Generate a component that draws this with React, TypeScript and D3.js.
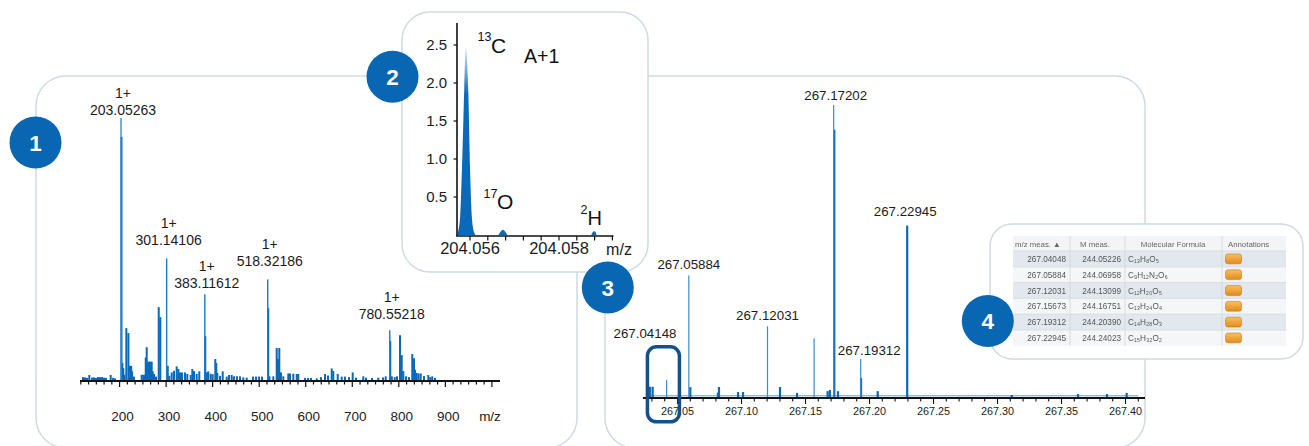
import * as d3 from "d3";

const FONT = "'Liberation Sans', Arial, Helvetica, sans-serif";
const BLUE = "#0a69b8";
const LIGHT_BLUE = "#3a8ad2";
const BORDER = "#cfdae3";
const BADGE = "#0866b2";
const INK = "#1b1b1b";

// ---------- panel 1: full scan (m/z, relative intensity %) ----------
const scanPeakMz = [203.05263, 301.14106, 383.11612, 518.32186, 780.55218];
const scanPeakIntensity = [100, 46.4, 32.7, 38.4, 19.0];

const scanProfile: [number, number][] = [
    [121.4, 1.1], [125.7, 1.0], [130.0, 0.8], [134.9, 1.9], [140.7, 0.9], [145.0, 1.0],
    [149.3, 0.8], [153.6, 1.1], [157.9, 1.1], [162.2, 1.1], [166.5, 0.9], [170.8, 0.8],
    [180.9, 1.9], [185.9, 0.8], [190.2, 0.6],
    [204.1, 92.8], [206.0, 6.5], [208.0, 4.5], [210.2, 2.0], [214.5, 19.8], [219.0, 17.9],
    [222.5, 5.4], [225.0, 5.4], [227.0, 3.3], [231.0, 1.3], [247.5, 2.0], [251.0, 2.0],
    [254.6, 2.0], [256.2, 8.6], [258.3, 12.5], [260.4, 6.7], [263.2, 7.0], [266.0, 7.0],
    [269.0, 7.0], [271.2, 3.3], [274.0, 2.3], [278.3, 1.3], [284.1, 27.8], [287.5, 24.0],
    [303.5, 5.4], [306.8, 1.6], [312.0, 2.9], [316.9, 3.5], [322.7, 5.2], [326.2, 4.2],
    [329.8, 2.9], [334.1, 2.9], [340.6, 2.9], [345.5, 2.3], [352.8, 1.9], [356.3, 4.2],
    [359.9, 3.4], [365.7, 2.3], [371.3, 3.3], [384.1, 16.7], [387.5, 2.9], [390.6, 3.3],
    [395.8, 2.4], [400.1, 2.2], [405.7, 8.0], [407.8, 6.5], [410.0, 2.7], [415.8, 1.6],
    [421.6, 3.3], [430.2, 1.3], [435.1, 1.9], [440.9, 1.9], [445.9, 1.4], [452.3, 1.4],
    [458.8, 1.4], [465.8, 1.0], [473.1, 0.9], [486.7, 1.3], [493.1, 1.3], [499.6, 1.3],
    [506.0, 1.3], [519.4, 27.4], [522.0, 1.4], [530.3, 1.4], [537.6, 12.2], [540.4, 8.0],
    [543.2, 12.2], [546.8, 2.9], [551.8, 1.4], [562.5, 2.5], [566.2, 2.5], [573.3, 2.4],
    [580.6, 2.3], [584.0, 2.3], [598.4, 0.8], [604.8, 0.8], [611.3, 0.8], [623.6, 0.6],
    [632.8, 1.1], [641.4, 2.3], [647.8, 1.7], [655.8, 4.4], [659.2, 3.4], [668.7, 2.3],
    [677.3, 1.3], [684.4, 1.3], [693.0, 1.1], [700.9, 2.9], [708.0, 0.9], [723.7, 1.4],
    [729.5, 0.9], [742.4, 0.8], [755.9, 0.9], [766.0, 1.0], [771.8, 1.4], [781.6, 14.9],
    [785.0, 1.4], [791.2, 1.1], [796.1, 1.4], [802.5, 17.1], [806.2, 9.5], [809.6, 3.4],
    [815.4, 1.4], [821.9, 1.1], [828.9, 9.9], [832.6, 8.3], [834.8, 3.9], [838.4, 2.7],
    [842.3, 2.5], [847.0, 2.5], [854.1, 1.5], [863.3, 1.9], [867.6, 1.1], [871.9, 1.4],
    [877.7, 0.8],
];
const scanTickLabels = [200, 300, 400, 500, 600, 700, 800, 900];

// ---------- panel 2: A+1 isotope fine structure ----------
const isoProfile: [number, number][] = [
    [204.05571, 0], [204.05573, 0.04], [204.05578, 0.25], [204.05582, 0.89],
    [204.05587, 1.92], [204.05589, 2.33], [204.05591, 2.48], [204.05593, 2.33],
    [204.05596, 1.92], [204.056, 0.89], [204.05604, 0.25], [204.05609, 0.04],
    [204.05613, 0], [204.05663, 0], [204.05667, 0.03], [204.05674, 0.07],
    [204.05681, 0.03], [204.05685, 0], [204.05872, 0], [204.05876, 0.04],
    [204.05879, 0.05], [204.05882, 0.04], [204.05885, 0], [204.05921, 0],
];
const isoYTicks = [0.5, 1.0, 1.5, 2.0, 2.5];
const isoXLabels = [204.056, 204.058];

// ---------- panel 3: zoom around m/z 267 ----------
const hrCentroids: [number, number][] = [
    [267.04148, 5.8], [267.05884, 41.6], [267.12031, 24.2],
    [267.15673, 20.1], [267.17202, 100], [267.19312, 13.0],
];
const hrProfile: [number, number][] = [
    [267.0285, 3.5], [267.0306, 3.5], [267.06, 3.4], [267.0816, 1.5], [267.0824, 3.4],
    [267.0973, 1.7], [267.1012, 1.7], [267.1301, 3.4], [267.1434, 1.4], [267.1673, 2.0],
    [267.1691, 2.4], [267.1725, 91.5], [267.1754, 2.0], [267.1934, 6.5], [267.2064, 2.0],
    [267.22945, 58.7], [267.3111, 0.7], [267.3629, 1.0], [267.3855, 1.0], [267.4009, 1.4],
];
const hrLabelMz = [267.04148, 267.05884, 267.12031, 267.17202, 267.19312, 267.22945];
const hrTickLabels = [267.05, 267.1, 267.15, 267.2, 267.25, 267.3, 267.35, 267.4];

// ---------- panel 4: result table ----------
const tableHeader = ["m/z meas. \u25B2", "M meas.", "Molecular Formula", "Annotations"];
const tableMz = ["267.04048", "267.05884", "267.12031", "267.15673", "267.19312", "267.22945"];
const tableMass = ["244.05226", "244.06958", "244.13099", "244.16751", "244.20390", "244.24023"];
const tableFormula = ["C₁₃H₈O₅", "C₉H₁₂N₂O₆", "C₁₂H₂₀O₅", "C₁₃H₂₄O₄", "C₁₄H₂₈O₃", "C₁₅H₃₂O₂"];

const Badge = ({ cx, cy, n }: { cx: number; cy: number; n: string }) => (
    <g>
        <circle cx={cx} cy={cy} r={26} fill={BADGE} />
        <text x={cx} y={cy + 8} textAnchor="middle" fill="#fff" fontSize={22.5} fontWeight="bold">
            {n}
        </text>
    </g>
);

export default function App() {
    // panel 1 scales
    const xScan = d3.scaleLinear().domain([116.67, 1000]).range([80.8, 491.9]);
    const yScan = d3.scaleLinear().domain([0, 100]).range([380, 118]);
    const scanTicks = d3.range(0, 54).map((k) => 116.67 + (k * 100) / 6);

    // panel 2 scales
    const xIso = d3.scaleLinear().domain([204.056, 204.058]).range([470, 559]);
    const yIso = d3.scaleLinear().domain([0, 2.5]).range([235, 45]);
    const isoTicks = d3.range(0, 9).map((k) => 204.056 + k * 0.0004);
    const isoArea = d3
        .area<[number, number]>()
        .x((d) => xIso(d[0]))
        .y0(yIso(0))
        .y1((d) => yIso(d[1]))
        .curve(d3.curveMonotoneX);

    // panel 3 scales
    const xHr = d3.scaleLinear().domain([267.05, 267.4]).range([677.5, 1125.5]);
    const yHr = d3.scaleLinear().domain([0, 100]).range([397, 105]);
    const hrTicks = d3.range(0, 39).map((k) => 267.03 + k * 0.01);
    const hrApex = (mz: number) =>
        d3.max([...hrCentroids, ...hrProfile].filter((p) => Math.abs(p[0] - mz) < 0.0002), (p) => p[1]) || 0;

    // label nudges (annotation layout)
    const scanLift = [3, 13.5, 6, 13.5, 11];
    const hrNudge = [[-21.6, 42.5], [0, 6.5], [0, 6], [2, 5.5], [8.5, 4], [-2, 10]];

    // table layout
    const colEdges = [1013, 1070, 1125, 1222, 1286];
    const headTop = 236;
    const rowTop = 251;
    const rowH = 15.8;

    return (
        <svg
            width={1309}
            height={446}
            style={{ position: "absolute", left: 0, top: 0, background: "#fff" }}
            fontFamily={FONT}
        >
            <defs>
                <linearGradient id="isoFill" gradientUnits="userSpaceOnUse" x1="0" y1={yIso(2.5)} x2="0" y2={yIso(1.85)}>
                    <stop offset="0" stopColor="#e3f0fb" />
                    <stop offset="1" stopColor={BLUE} />
                </linearGradient>
                <linearGradient id="tag" x1="0" y1="0" x2="0" y2="1">
                    <stop offset="0" stopColor="#f7c063" />
                    <stop offset="1" stopColor="#e28a1c" />
                </linearGradient>
                <filter id="soft" x="-5%" y="-5%" width="110%" height="110%">
                    <feGaussianBlur stdDeviation="0.45" />
                </filter>
            </defs>

            {/* panel frames */}
            <rect x={36} y={76} width={541} height={372} rx={30} fill="none" stroke={BORDER} strokeWidth={1.5} />
            <rect x={605} y={76} width={540} height={372} rx={30} fill="none" stroke={BORDER} strokeWidth={1.5} />

            {/* ---- panel 1 ---- */}
            <g>
                {scanProfile.map((d, i) => (
                    <rect
                        key={`sp${i}`}
                        x={xScan(d[0]) - 1}
                        y={yScan(d[1])}
                        width={2}
                        height={yScan(0) - yScan(d[1])}
                        fill={BLUE}
                    />
                ))}
                {scanPeakMz.map((mz, i) => (
                    <rect
                        key={`sc${i}`}
                        x={xScan(mz) - 0.7}
                        y={yScan(scanPeakIntensity[i])}
                        width={1.4}
                        height={yScan(0) - yScan(scanPeakIntensity[i])}
                        fill={i === 0 ? LIGHT_BLUE : "#1f78c6"}
                    />
                ))}
                <rect x={80} y={380} width={420} height={2} fill="#111" />
                {scanTicks.map((t, i) => {
                    const major = Math.abs(Math.round(t / 100) * 100 - t) < 0.05;
                    return (
                        <line
                            key={`st${i}`}
                            x1={xScan(t)}
                            x2={xScan(t)}
                            y1={381}
                            y2={major ? 387 : 384.5}
                            stroke="#111"
                            strokeWidth={1.2}
                        />
                    );
                })}
                {scanTickLabels.map((t) => (
                    <text key={`sl${t}`} x={xScan(t) + 3} y={421} textAnchor="middle" fontSize={13.5} fill={INK}>
                        {t}
                    </text>
                ))}
                <text x={490} y={421} textAnchor="middle" fontSize={13.5} fill={INK}>
                    m/z
                </text>
                {scanPeakMz.map((mz, i) => {
                    const yb = yScan(scanPeakIntensity[i]) - scanLift[i];
                    const x = xScan(mz) + 2;
                    return (
                        <g key={`lab${i}`} fontSize={14} fill={INK} textAnchor="middle">
                            <text x={x} y={yb - 17}>1+</text>
                            <text x={x} y={yb}>{mz.toFixed(5)}</text>
                        </g>
                    );
                })}
            </g>

            {/* ---- panel 3 ---- */}
            <g>
                <line x1={xHr(267.026)} x2={xHr(267.41)} y1={395.8} y2={395.8} stroke="#5a9edb" strokeWidth={1} />
                {hrProfile.map((d, i) => (
                    <rect
                        key={`hp${i}`}
                        x={xHr(d[0]) - 1.1}
                        y={yHr(d[1])}
                        width={2.2}
                        height={yHr(0) - yHr(d[1])}
                        fill={BLUE}
                    />
                ))}
                {hrCentroids.map((d, i) => (
                    <rect
                        key={`hc${i}`}
                        x={xHr(d[0]) - 0.6}
                        y={yHr(d[1])}
                        width={1.2}
                        height={yHr(0) - yHr(d[1])}
                        fill={LIGHT_BLUE}
                    />
                ))}
                <rect x={643} y={397} width={502} height={2} fill="#111" />
                {hrTicks.map((t, i) => {
                    const major = Math.abs(Math.round(t * 20) / 20 - t) < 0.0005;
                    return (
                        <line
                            key={`ht${i}`}
                            x1={xHr(t)}
                            x2={xHr(t)}
                            y1={398}
                            y2={major ? 404 : 401.5}
                            stroke="#111"
                            strokeWidth={1.1}
                        />
                    );
                })}
                {hrTickLabels.map((t) => (
                    <text key={`hl${t}`} x={xHr(t)} y={415} textAnchor="middle" fontSize={10.8} fill={INK}>
                        {t.toFixed(2)}
                    </text>
                ))}
                {hrLabelMz.map((mz, i) => (
                    <text
                        key={`hlab${i}`}
                        x={xHr(mz) + hrNudge[i][0]}
                        y={yHr(hrApex(mz)) - hrNudge[i][1]}
                        textAnchor="middle"
                        fontSize={13.3}
                        fill={INK}
                    >
                        {mz.toFixed(5)}
                    </text>
                ))}
                {/* highlighted region around the A+1 peak */}
                <rect
                    x={xHr(267.0265)}
                    y={yHr(17.2)}
                    width={xHr(267.0515) - xHr(267.0265)}
                    height={75}
                    rx={9}
                    fill="none"
                    stroke="#14508c"
                    strokeWidth={3.5}
                />
            </g>

            {/* ---- panel 2 (inset) ---- */}
            <g>
                <rect x={402} y={12} width={246} height={260} rx={28} fill="#fff" stroke={BORDER} strokeWidth={1.5} />
                <path d={isoArea(isoProfile) || ""} fill="url(#isoFill)" />
                <line x1={457} x2={457} y1={23} y2={236} stroke="#111" strokeWidth={1.6} />
                <line x1={456.2} x2={613.5} y1={236} y2={236} stroke="#111" strokeWidth={1.6} />
                {isoYTicks.map((t) => (
                    <g key={`iy${t}`}>
                        <line x1={453.5} x2={457} y1={yIso(t)} y2={yIso(t)} stroke="#111" strokeWidth={1.2} />
                        <text x={447} y={yIso(t) + 5.3} textAnchor="end" fontSize={15} fill={INK}>
                            {t.toFixed(1)}
                        </text>
                    </g>
                ))}
                {isoTicks.map((t, i) => (
                    <line key={`ix${i}`} x1={xIso(t)} x2={xIso(t)} y1={236} y2={240.5} stroke="#111" strokeWidth={1.2} />
                ))}
                {isoXLabels.map((t) => (
                    <text key={`ixl${t}`} x={xIso(t)} y={254} textAnchor="middle" fontSize={16.5} fill={INK}>
                        {t.toFixed(3)}
                    </text>
                ))}
                <text x={619} y={255} textAnchor="middle" fontSize={16} fill={INK}>
                    m/z
                </text>
                <g fill="#111">
                    <text x={477.5} y={40.7} fontSize={12.5}>13</text>
                    <text x={491} y={52.7} fontSize={21}>C</text>
                    <text x={524} y={63.3} fontSize={19.5}>A+1</text>
                    <text x={483.5} y={198.3} fontSize={12.5}>17</text>
                    <text x={497} y={209.3} fontSize={21}>O</text>
                    <text x={580.5} y={214.3} fontSize={12.5}>2</text>
                    <text x={587.5} y={225.3} fontSize={20}>H</text>
                </g>
            </g>

            {/* ---- panel 4 (table) ---- */}
            <g>
                <rect x={990} y={224} width={313} height={135} rx={22} fill="#fff" stroke={BORDER} strokeWidth={1.5} />
                <g filter="url(#soft)">
                    <rect x={colEdges[0]} y={headTop} width={colEdges[4] - colEdges[0]} height={rowTop - headTop} fill="#f3f4f5" />
                    {tableMz.map((_, i) => (
                        <rect
                            key={`row${i}`}
                            x={colEdges[0]}
                            y={rowTop + i * rowH}
                            width={colEdges[4] - colEdges[0]}
                            height={rowH}
                            fill={i % 2 === 0 ? "#e2e8ee" : "#f5f6f8"}
                        />
                    ))}
                    {tableMz.map((_, i) => (
                        <line
                            key={`rl${i}`}
                            x1={colEdges[0]}
                            x2={colEdges[4]}
                            y1={rowTop + i * rowH}
                            y2={rowTop + i * rowH}
                            stroke="#d3d9df"
                            strokeWidth={0.8}
                        />
                    ))}
                    {colEdges.slice(1, 4).map((cx) => (
                        <line key={`cl${cx}`} x1={cx} x2={cx} y1={headTop} y2={rowTop + 6 * rowH} stroke="#cfd5db" strokeWidth={0.8} />
                    ))}
                    <g fontSize={7.8} fill="#666">
                        <text x={1015} y={246.5}>{tableHeader[0]}</text>
                        <text x={1080} y={246.5}>{tableHeader[1]}</text>
                        <text x={1173} y={246.5} textAnchor="middle">{tableHeader[2]}</text>
                        <text x={1228} y={246.5}>{tableHeader[3]}</text>
                    </g>
                    {tableMz.map((mz, i) => {
                        const yb = rowTop + i * rowH + rowH / 2 + 3;
                        return (
                            <g key={`tr${i}`} fontSize={8.2} fill="#555">
                                <text x={1066} y={yb} textAnchor="end">{mz}</text>
                                <text x={1121} y={yb} textAnchor="end">{tableMass[i]}</text>
                                <text x={1128} y={yb}>{tableFormula[i]}</text>
                                <rect
                                    x={1225.5}
                                    y={rowTop + i * rowH + 3}
                                    width={16}
                                    height={rowH - 6}
                                    rx={2.5}
                                    fill="url(#tag)"
                                    stroke="#c97a1a"
                                    strokeWidth={0.6}
                                />
                            </g>
                        );
                    })}
                </g>
            </g>

            {/* numbered badges */}
            <Badge cx={35.5} cy={142.5} n="1" />
            <Badge cx={392.5} cy={76.7} n="2" />
            <Badge cx={607.8} cy={287.5} n="3" />
            <Badge cx={987.8} cy={321} n="4" />
        </svg>
    );
}
